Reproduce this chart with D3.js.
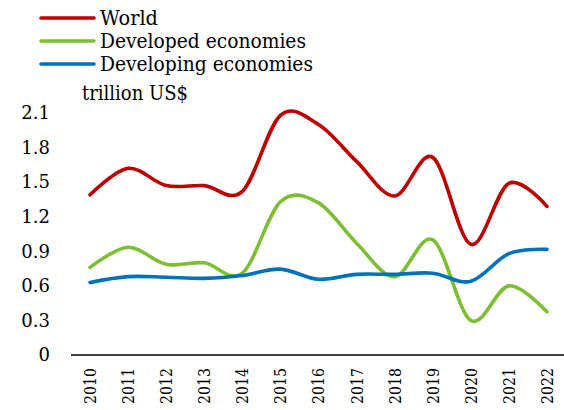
<!DOCTYPE html>
<html>
<head>
<meta charset="utf-8">
<script src="https://cdn.jsdelivr.net/npm/d3@7"></script>
<style>
  body { margin: 0; background: #fff; }
  svg { display: block; }
  svg text { font-family: "DejaVu Serif", "Liberation Serif", serif; }
</style>
</head>
<body>
<svg width="564" height="410"></svg>
<script>
const years = ['2010', '2011', '2012', '2013', '2014', '2015', '2016',
  '2017', '2018', '2019', '2020', '2021', '2022'];
const world = [1.39, 1.62, 1.47, 1.47, 1.42, 2.08, 2.0, 1.68, 1.38, 1.715, 0.96, 1.49, 1.29];
const developed = [0.76, 0.935, 0.787, 0.80, 0.71, 1.33, 1.32, 0.97, 0.68, 1.0, 0.30, 0.60, 0.375];
const developing = [0.63, 0.68, 0.675, 0.665, 0.69, 0.745, 0.657, 0.70, 0.70, 0.71, 0.64, 0.88, 0.917];
const yTicks = [0, 0.3, 0.6, 0.9, 1.2, 1.5, 1.8, 2.1];
const seriesNames = ['World', 'Developed economies', 'Developing economies'];
const seriesColors = ['#c00000', '#7dbe32', '#0070c0'];

const svg = d3.select('svg');

const xScale = d3.scaleBand()
    .domain(years)
    .range([71, 566]);
const yScale = d3.scaleLinear()
    .domain([0, 2.1])
    .range([355, 113]);

// y axis: labels only
const yAxis = d3.axisLeft(yScale)
    .tickValues(yTicks)
    .tickSize(0)
    .tickPadding(0)
    .tickFormat(d => d === 0 ? '0' : d3.format('.1f')(d));
svg.append('g')
    .attr('transform', 'translate(50, 0)')
    .call(yAxis)
    .attr('font-family', null)
    .call(g => g.select('.domain').remove())
    .selectAll('text')
    .attr('font-size', 18)
    .attr('fill', '#000');

// x axis
const xAxis = d3.axisBottom(xScale).tickSize(0).tickPadding(0);
svg.append('g')
    .attr('transform', 'translate(0, 355)')
    .call(xAxis)
    .attr('font-family', null)
    .call(g => g.select('.domain').attr('stroke', '#000').attr('stroke-width', 1.6)
      .attr('d', 'M71,0H566'))
    .selectAll('text')
    .attr('font-size', 17)
    .attr('fill', '#000')
    .attr('text-anchor', 'end')
    .attr('dy', '0.35em')
    .attr('transform', 'translate(0, 13) rotate(-90)')
    .attr('x', 0)
    .attr('y', 0)
    .attr('textLength', 36)
    .attr('lengthAdjust', 'spacingAndGlyphs');

// lines
const line = d3.line()
    .x((d, i) => xScale(years[i]) + xScale.bandwidth() / 2)
    .y(d => yScale(d))
    .curve(d3.curveCardinal.tension(0));

[world, developed, developing].forEach((vals, i) => {
  svg.append('path')
      .datum(vals)
      .attr('d', line)
      .attr('fill', 'none')
      .attr('stroke', seriesColors[i])
      .attr('stroke-width', 3.6)
      .attr('stroke-linejoin', 'round')
      .attr('stroke-linecap', 'round');
});

// legend
const legendWidths = [58, 206, 213];
const legend = svg.append('g');
seriesNames.forEach((name, i) => {
  const y = 18 + i * 23;
  legend.append('line')
      .attr('x1', 41).attr('x2', 94)
      .attr('y1', y).attr('y2', y)
      .attr('stroke', seriesColors[i])
      .attr('stroke-width', 3.6)
      .attr('stroke-linecap', 'round');
  legend.append('text')
      .attr('x', 100)
      .attr('y', y + 7)
      .attr('font-size', 20)
      .attr('fill', '#000')
      .attr('textLength', legendWidths[i])
      .attr('lengthAdjust', 'spacingAndGlyphs')
      .text(name);
});

// unit label
svg.append('text')
    .attr('x', 82)
    .attr('y', 100)
    .attr('font-size', 20)
    .attr('fill', '#000')
    .attr('textLength', 106)
    .attr('lengthAdjust', 'spacingAndGlyphs')
    .text('trillion US$');
</script>
</body>
</html>
